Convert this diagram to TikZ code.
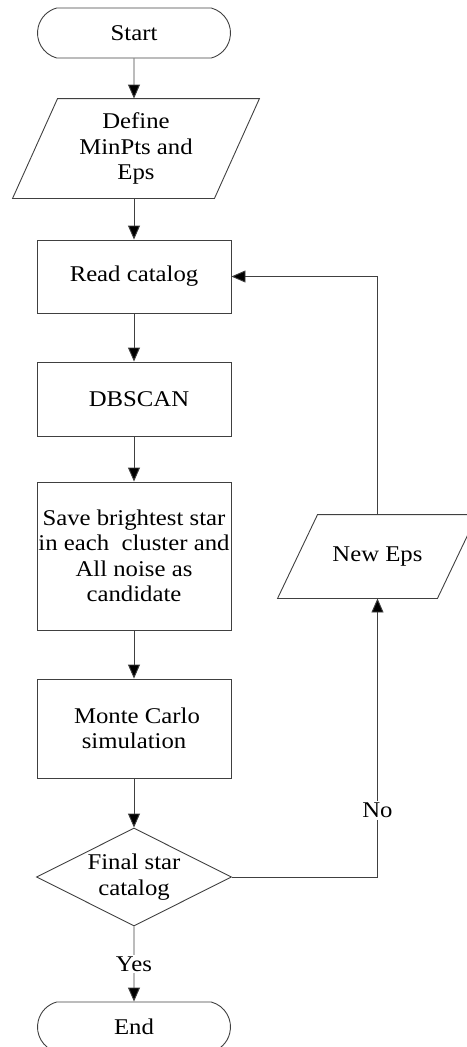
\documentclass[tikz,border=0pt]{standalone}
\usepackage{fontspec}
\setmainfont{Liberation Serif}[FakeStretch=1.1]
\usetikzlibrary{shapes.geometric, shapes.misc, arrows.meta}

\begin{document}
\begin{tikzpicture}[x = 1pt, y = -1pt,
		base/.style = {draw = black!75, line width = 0.9pt, align = center, inner sep = 1pt,
			font = \fontsize{22.5}{25.5}\selectfont},
		term/.style = {base, rounded rectangle, rounded rectangle arc length = 150,
			minimum width = 195pt, minimum height = 50pt},
		io/.style = {base, draw = none, rectangle},
		proc/.style = {base, rectangle, minimum width = 194pt},
		test/.style = {base, diamond, aspect = 2, inner sep = 0pt,
			minimum width = 195pt, minimum height = 98pt},
		flow/.style = {draw = black!75, line width = 0.9pt, -{Triangle[length = 14pt, width = 12pt, fill = black]}},
		lbl/.style = {fill = white, inner sep = 2pt, font = \fontsize{22.5}{25.5}\selectfont}]
		
		\useasboundingbox (0, 0) rectangle (466, 1047);
		
		\node[term] (start) at (134, 33) {Start};
		\node[io, minimum width = 201pt, minimum height = 99pt] (define) at (136, 148.5) {Define\\MinPts and\\Eps};
		\node[proc, minimum height = 73pt] (read) at (134, 276.5) {Read catalog};
		\node[proc, minimum height = 74pt] (dbscan) at (134, 399) {\hspace{10pt}DBSCAN};
		\node[proc, minimum height = 148pt] (save) at (134, 556) {Save brightest star\\in each\ \ cluster and\\All noise as\\candidate};
		\node[proc, minimum height = 99pt] (monte) at (134, 728.5) {\hspace{6pt}Monte Carlo\\simulation};
		\node[test] (final) at (134, 877) {Final star\\catalog};
		\node[term] (end) at (134, 1027) {End};
		
		\node[io, minimum width = 159pt, minimum height = 83pt] (neweps) at (377.5, 556.5) {New Eps};
		
		\draw[base] ([xshift = -22.5pt]define.south west) -- ([xshift = 22.5pt]define.north west)
			-- ([xshift = 22.5pt]define.north east) -- ([xshift = -22.5pt]define.south east) -- cycle;
		\draw[base] ([xshift = -20pt]neweps.south west) -- ([xshift = 20pt]neweps.north west)
			-- ([xshift = 20pt]neweps.north east) -- ([xshift = -20pt]neweps.south east) -- cycle;
		
		\draw[flow] (start) -- (start |- define.north);
		\draw[flow] (read |- define.south) -- (read);
		\draw[flow] (read) -- (dbscan);
		\draw[flow] (dbscan) -- (save);
		\draw[flow] (save) -- (monte);
		\draw[flow] (monte) -- (final);
		\draw[flow] (final) -- (end) node[lbl, midway] {Yes};
		
		\draw[flow] (final.east) -| (neweps.south) node[lbl, pos = 0.62] {No};
		\draw[flow] (neweps.north) |- (read.east);
		
	\end{tikzpicture}
\end{document}
